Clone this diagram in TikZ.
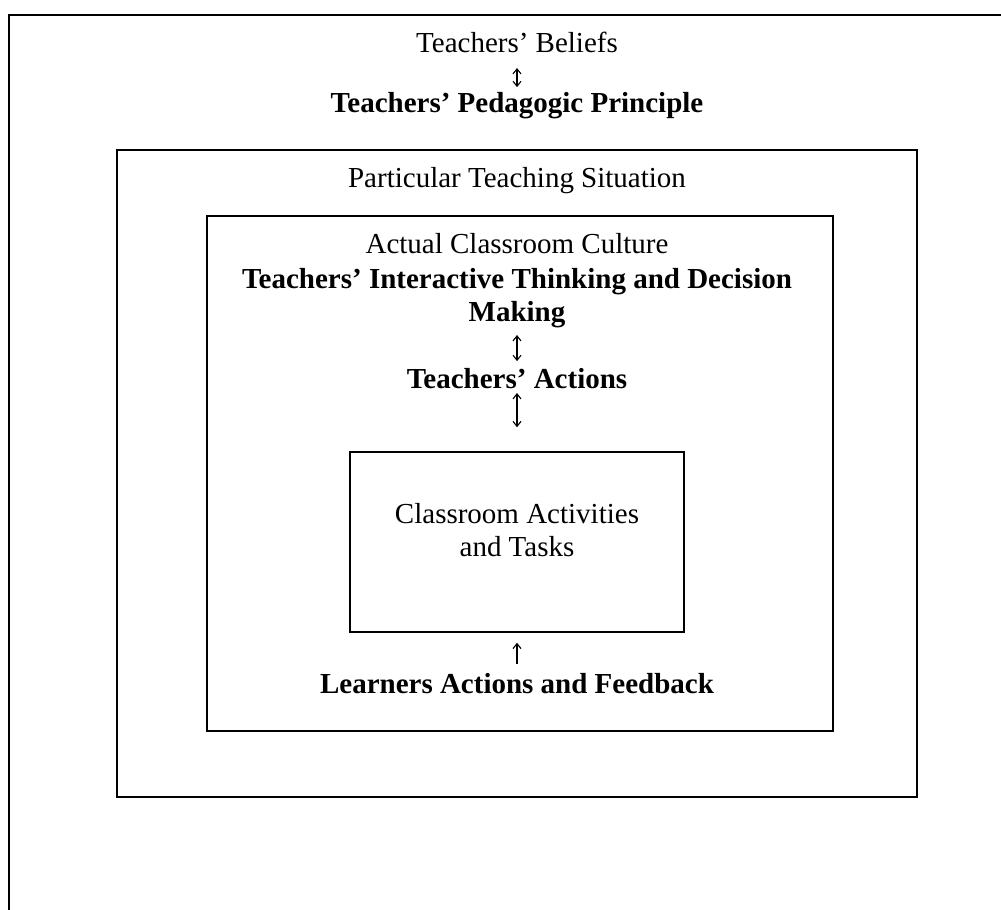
\documentclass[tikz,border=0pt]{standalone}
\usepackage{fontspec}
\setmainfont{Liberation Serif}
\usetikzlibrary{arrows.meta}

\begin{document}
\begin{tikzpicture}[x=1pt, y=-1pt, line width=1.5pt,
  txt/.style={inner sep=0pt, align=center, font=\fontsize{29}{33}\selectfont},
  btxt/.style={txt, font=\fontsize{29}{33}\selectfont\bfseries},
  updown/.style={line width=1.1pt, {Straight Barb[length=5pt,width=8pt]}-{Straight Barb[length=5pt,width=8pt]}},
  uponly/.style={line width=1.1pt, -{Straight Barb[length=5pt,width=8pt]}}]
  \useasboundingbox (0,0) rectangle (1001,910);
  \clip (0,0) rectangle (1001,910);
  % frames
  \draw (9,15) rectangle (1040,940);
  \node [draw, inner sep=0pt, minimum width=800pt, minimum height=647pt] (situation) at (517,473.5) {};
  \node [draw, inner sep=0pt, minimum width=626pt, minimum height=515pt] (culture) at (520,473.5) {};
  \node [draw, inner sep=0pt, minimum width=334pt, minimum height=180pt] (tasksbox) at (517,542) {};
  % texts
  \node [txt, anchor=base]   (beliefs) at (517,52) {Teachers’ Beliefs};
  \node [btxt, anchor=base]  (principle) at (517,112) {Teachers’ Pedagogic Principle};
  \node [txt, anchor=base]   (situationlabel) at (517,187) {Particular Teaching Situation};
  \node [txt, anchor=base]   (culturelabel) at (517,253) {Actual Classroom Culture};
  \node [btxt, anchor=north] (thinking) at (517,268) {Teachers’ Interactive Thinking and Decision\\Making};
  \node [btxt, anchor=base]  (actions) at (517,388) {Teachers’ Actions};
  \node [txt, anchor=north]  (tasks) at (517,503) {Classroom Activities\\and Tasks};
  \node [btxt, anchor=base]  (learners) at (517,693) {Learners Actions and Feedback};
  % arrows
  \draw [updown, shorten <=15pt, shorten >=4pt] (beliefs) -- (principle);
  \draw [updown, shorten <=6pt, shorten >=6pt] (thinking) -- (actions);
  \draw [updown, shorten <=4pt, shorten >=24pt] (actions) -- (tasksbox);
  \draw [uponly, shorten <=8pt, shorten >=10pt] (learners) -- (tasksbox);
\end{tikzpicture}
\end{document}
